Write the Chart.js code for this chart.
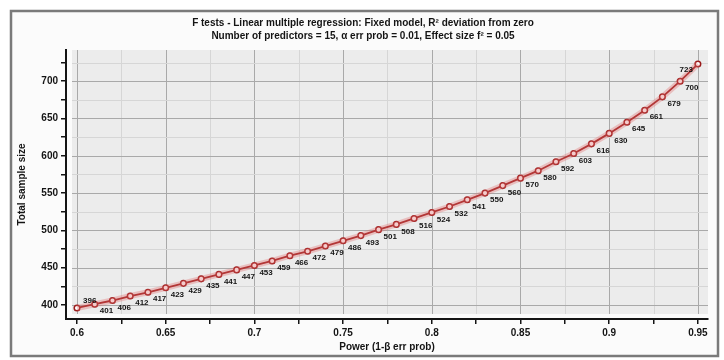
<!DOCTYPE html>
<html>
<head>
<meta charset="utf-8">
<script src="https://cdn.jsdelivr.net/npm/chart.js@4.4.1/dist/chart.umd.min.js"></script>
<style>
  html, body { margin: 0; padding: 0; background: #ffffff; }
  #chart { display: block; }
</style>
</head>
<body>
<canvas id="chart" width="724" height="360"></canvas>
<script>
const powerValues = [0.60, 0.61, 0.62, 0.63, 0.64, 0.65, 0.66, 0.67, 0.68, 0.69,
                     0.70, 0.71, 0.72, 0.73, 0.74, 0.75, 0.76, 0.77, 0.78, 0.79,
                     0.80, 0.81, 0.82, 0.83, 0.84, 0.85, 0.86, 0.87, 0.88, 0.89,
                     0.90, 0.91, 0.92, 0.93, 0.94, 0.95];
const sampleSizes = [396, 401, 406, 412, 417, 423, 429, 435, 441, 447,
                     453, 459, 466, 472, 479, 486, 493, 501, 508, 516,
                     524, 532, 541, 550, 560, 570, 580, 592, 603, 616,
                     630, 645, 661, 679, 700, 723];

// ticks: every other one carries a label
const xTicks = [0.6, 0.625, 0.65, 0.675, 0.7, 0.725, 0.75, 0.775, 0.8, 0.825, 0.85, 0.875, 0.9, 0.925, 0.95];
const yTicks = [400, 425, 450, 475, 500, 525, 550, 575, 600, 625, 650, 675, 700, 725];

const titleLines = [
    'F tests - Linear multiple regression: Fixed model, R\u00b2 deviation from zero',
    'Number of predictors = 15, \u03b1 err prob = 0.01, Effect size f\u00b2 = 0.05'
];

const lineColor = '#9a1b1b';
const inkColor = '#141414';

// frame, title and the grey plot panel with its grid
const backdrop = {
    id: 'backdrop',
    beforeDraw(chart) {
        const ctx = chart.ctx;
        ctx.save();
        ctx.fillStyle = '#ffffff';
        ctx.fillRect(0, 0, chart.width, chart.height);
        ctx.fillStyle = '#fbfbfb';
        ctx.fillRect(11, 11, 707, 345);
        ctx.strokeStyle = '#7a7a7a';
        ctx.lineWidth = 2.5;
        ctx.strokeRect(11, 11, 707, 345);

        ctx.fillStyle = inkColor;
        ctx.textAlign = 'center';
        ctx.textBaseline = 'middle';
        ctx.font = 'bold 10px "Liberation Sans", Arial, sans-serif';
        ctx.fillText(titleLines[0], 363, 23);
        ctx.fillText(titleLines[1], 363, 36);
        ctx.restore();
    },
    beforeDatasetsDraw(chart) {
        const { ctx, scales: { x, y } } = chart;
        const left = 72, right = chart.chartArea.right, top = chart.chartArea.top, bottom = 314;
        ctx.save();
        ctx.fillStyle = '#ececec';
        ctx.fillRect(left, top, right - left, bottom - top);

        // minor grid first, major on top
        xTicks.forEach((v, i) => {
            const px = Math.round(x.getPixelForValue(v)) + 0.5;
            ctx.strokeStyle = i % 2 === 0 ? '#a9a9a9' : '#d6d6d6';
            ctx.lineWidth = 1;
            ctx.beginPath();
            ctx.moveTo(px, top);
            ctx.lineTo(px, bottom);
            ctx.stroke();
        });
        yTicks.forEach((v, i) => {
            const py = Math.round(y.getPixelForValue(v)) + 0.5;
            ctx.strokeStyle = i % 2 === 0 ? '#a9a9a9' : '#d6d6d6';
            ctx.lineWidth = 1;
            ctx.beginPath();
            ctx.moveTo(left, py);
            ctx.lineTo(right, py);
            ctx.stroke();
        });
        ctx.restore();
    }
};

// value labels next to each point
const pointLabels = {
    id: 'pointLabels',
    afterDatasetsDraw(chart) {
        const ctx = chart.ctx;
        const meta = chart.getDatasetMeta(1);
        ctx.save();
        ctx.fillStyle = inkColor;
        ctx.font = 'bold 8px "Liberation Sans", Arial, sans-serif';
        ctx.textBaseline = 'middle';
        meta.data.forEach((pt, i) => {
            let dx = 5, dy = 7;
            ctx.textAlign = 'left';
            if (i === 0) { dx = 6; dy = -7; }
            if (i === meta.data.length - 1) { dx = -5; dy = 6; ctx.textAlign = 'right'; }
            ctx.fillText(String(sampleSizes[i]), pt.x + dx, pt.y + dy);
        });
        ctx.restore();
    }
};

const points = powerValues.map((p, i) => ({ x: p, y: sampleSizes[i] }));

const tickFont = { family: '"Liberation Sans", Arial, sans-serif', size: 10, weight: 'bold' };

new Chart(document.getElementById('chart'), {
    type: 'line',
    data: {
        datasets: [
            {
                // soft halo under the curve
                data: points,
                borderColor: 'rgba(225, 110, 110, 0.35)',
                borderWidth: 6,
                pointRadius: 0,
                tension: 0
            },
            {
                data: points,
                borderColor: lineColor,
                borderWidth: 1.8,
                pointRadius: 2.8,
                pointBackgroundColor: '#ffffff',
                pointBorderColor: lineColor,
                pointBorderWidth: 1.5,
                tension: 0
            }
        ]
    },
    options: {
        responsive: false,
        animation: false,
        devicePixelRatio: 1,
        layout: { padding: { top: 50, right: 16, left: 0, bottom: 0 } },
        plugins: {
            legend: { display: false },
            tooltip: { enabled: false },
            title: { display: false }
        },
        scales: {
            x: {
                type: 'linear',
                min: 0.5938,
                max: 0.9557,
                afterBuildTicks: s => { s.ticks = xTicks.map(v => ({ value: v })); },
                afterFit: s => { s.height = 41; },
                ticks: {
                    autoSkip: false,
                    maxRotation: 0,
                    color: inkColor,
                    font: tickFont,
                    padding: 3,
                    callback: (v, i) => (i % 2 === 0 ? String(xTicks[i]) : '')
                },
                grid: { drawOnChartArea: false, tickLength: 5, color: inkColor, lineWidth: 1.5 },
                border: { color: inkColor, width: 2 },
                title: {
                    display: true,
                    text: 'Power (1-\u03b2 err prob)',
                    color: inkColor,
                    font: tickFont,
                    padding: { top: 0, bottom: 7 }
                }
            },
            y: {
                type: 'linear',
                min: 381.2,
                max: 741.8,
                afterBuildTicks: s => { s.ticks = yTicks.map(v => ({ value: v })); },
                afterFit: s => { s.width = 66; },
                ticks: {
                    autoSkip: false,
                    color: inkColor,
                    font: tickFont,
                    padding: 3,
                    callback: (v, i) => (i % 2 === 0 ? String(yTicks[i]) : '')
                },
                grid: { drawOnChartArea: false, tickLength: 5, color: inkColor, lineWidth: 1.5 },
                border: { color: inkColor, width: 2 },
                title: {
                    display: true,
                    text: 'Total sample size',
                    color: inkColor,
                    font: tickFont,
                    padding: { top: 16, bottom: 0 }
                }
            }
        }
    },
    plugins: [backdrop, pointLabels]
});
</script>
</body>
</html>
